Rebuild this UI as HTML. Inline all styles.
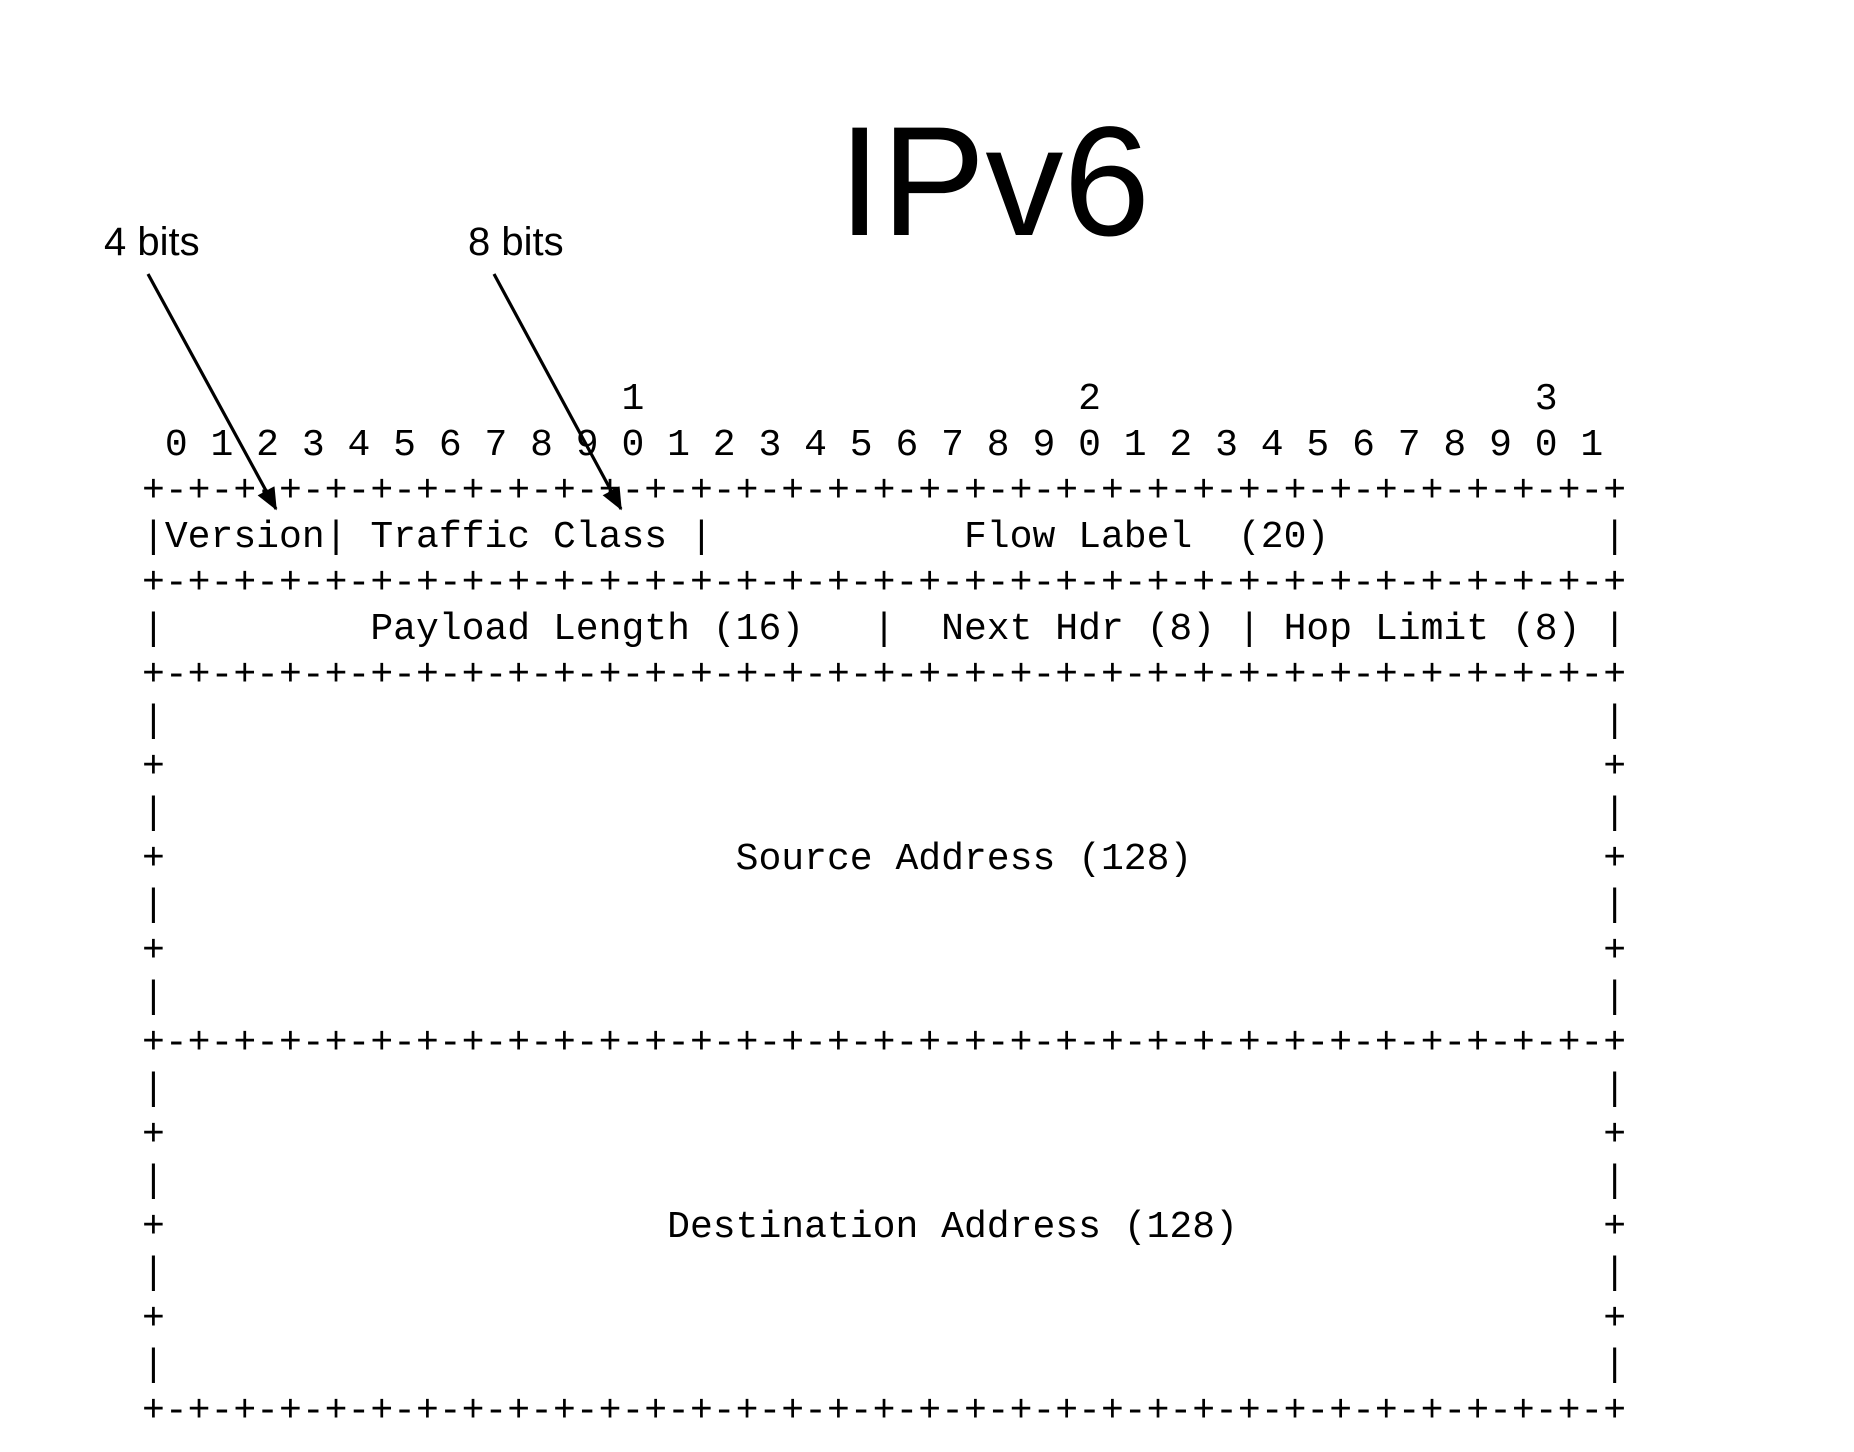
<!DOCTYPE html>
<html><head><meta charset="utf-8"><style>
html,body{margin:0;padding:0;background:#fff;width:1854px;height:1452px;overflow:hidden;position:relative}
pre{position:absolute;left:142px;top:377px;margin:0;font-family:"Liberation Mono",monospace;font-size:38.05px;line-height:46px;color:#000}
.t{position:absolute;font-family:"Liberation Sans",sans-serif;color:#000;white-space:nowrap;line-height:1}
</style></head><body>
<div class="t" style="left:838px;top:104px;font-size:156px">IPv6</div>
<div class="t" style="left:104px;top:222px;font-size:40px">4 bits</div>
<div class="t" style="left:468px;top:222px;font-size:40px">8 bits</div>
<pre>                     1                   2                   3
 0 1 2 3 4 5 6 7 8 9 0 1 2 3 4 5 6 7 8 9 0 1 2 3 4 5 6 7 8 9 0 1
+-+-+-+-+-+-+-+-+-+-+-+-+-+-+-+-+-+-+-+-+-+-+-+-+-+-+-+-+-+-+-+-+
|Version| Traffic Class |           Flow Label  (20)            |
+-+-+-+-+-+-+-+-+-+-+-+-+-+-+-+-+-+-+-+-+-+-+-+-+-+-+-+-+-+-+-+-+
|         Payload Length (16)   |  Next Hdr (8) | Hop Limit (8) |
+-+-+-+-+-+-+-+-+-+-+-+-+-+-+-+-+-+-+-+-+-+-+-+-+-+-+-+-+-+-+-+-+
|                                                               |
+                                                               +
|                                                               |
+                         Source Address (128)                  +
|                                                               |
+                                                               +
|                                                               |
+-+-+-+-+-+-+-+-+-+-+-+-+-+-+-+-+-+-+-+-+-+-+-+-+-+-+-+-+-+-+-+-+
|                                                               |
+                                                               +
|                                                               |
+                      Destination Address (128)                +
|                                                               |
+                                                               +
|                                                               |
+-+-+-+-+-+-+-+-+-+-+-+-+-+-+-+-+-+-+-+-+-+-+-+-+-+-+-+-+-+-+-+-+</pre>
<svg width="1854" height="1452" style="position:absolute;left:0;top:0">
<defs><marker id="a" markerWidth="7" markerHeight="6" refX="6.5" refY="3" orient="auto" markerUnits="strokeWidth"><path d="M0,0 L7,3 L0,6 z" fill="#000"/></marker></defs>
<line x1="148" y1="274" x2="276" y2="509" stroke="#000" stroke-width="3.2" marker-end="url(#a)"/>
<line x1="494" y1="274" x2="621" y2="509" stroke="#000" stroke-width="3.2" marker-end="url(#a)"/>
</svg>
</body></html>
